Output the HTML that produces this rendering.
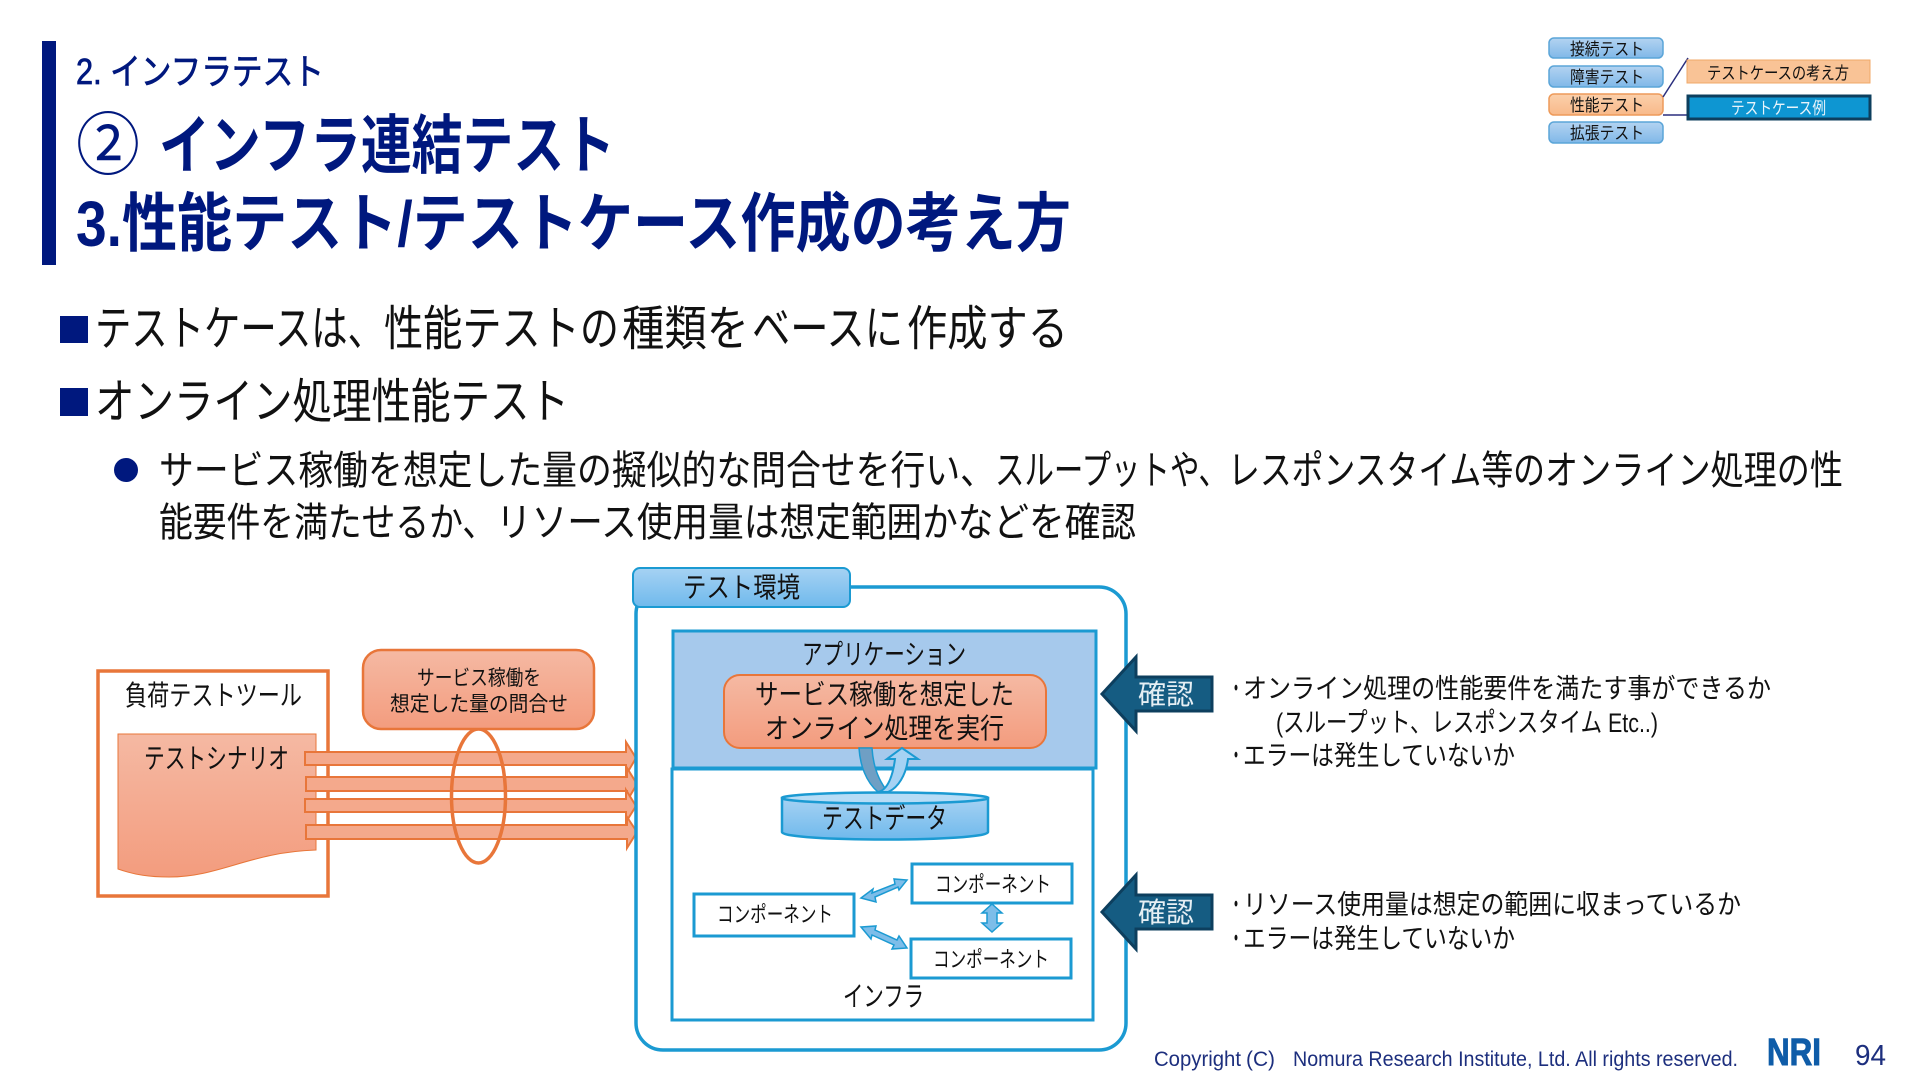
<!DOCTYPE html>
<html lang="ja"><head><meta charset="utf-8"><title>性能テスト</title>
<style>
html,body{margin:0;padding:0;background:#fff}
svg{display:block}
text{font-family:"Liberation Sans","Noto Sans CJK JP",sans-serif;fill:#111}
.t{fill:#00187e;font-weight:700}
</style></head><body>
<svg width="1920" height="1080" viewBox="0 0 1920 1080" xmlns="http://www.w3.org/2000/svg">
<defs>
<linearGradient id="o" x1="0" y1="0" x2="0" y2="1"><stop offset="0" stop-color="#f5b9a3"/><stop offset="1" stop-color="#f39c7e"/></linearGradient>
<linearGradient id="b" x1="0" y1="0" x2="0" y2="1"><stop offset="0" stop-color="#a6d2f3"/><stop offset="1" stop-color="#6fb9ec"/></linearGradient>
<linearGradient id="s" x1="0" y1="0" x2="0" y2="1"><stop offset="0" stop-color="#b3d3f1"/><stop offset="1" stop-color="#80b8e8"/></linearGradient>
<linearGradient id="so" x1="0" y1="0" x2="0" y2="1"><stop offset="0" stop-color="#fbd0ab"/><stop offset="1" stop-color="#f8b98a"/></linearGradient>
</defs>

<!-- header -->
<rect x="42" y="41" width="14" height="224" fill="#00187e"/>
<text x="76" y="84" font-size="36" textLength="248" lengthAdjust="spacingAndGlyphs" style="fill:#00187e;stroke:#00187e;stroke-width:.8">2. インフラテスト</text>
<text class="t" x="76" y="169" font-size="68" textLength="64" lengthAdjust="spacingAndGlyphs" style="font-weight:400">②</text>
<text class="t" x="159" y="168" font-size="64" textLength="456" lengthAdjust="spacingAndGlyphs">インフラ連結テスト</text>
<text class="t" x="76" y="246" font-size="64" textLength="995" lengthAdjust="spacingAndGlyphs">3.性能テスト/テストケース作成の考え方</text>

<!-- navigator -->
<g stroke="#5ba5d8" stroke-width="1.5" fill="url(#s)">
<rect x="1549" y="38" width="114" height="20" rx="5"/>
<rect x="1549" y="66" width="114" height="21" rx="5"/>
<rect x="1549" y="122" width="114" height="21" rx="5"/>
</g>
<rect x="1549" y="94" width="114" height="21" rx="5" fill="url(#so)" stroke="#ed9a5a" stroke-width="1.5"/>
<g font-size="17">
<text x="1570" y="55" textLength="74" lengthAdjust="spacingAndGlyphs">接続テスト</text>
<text x="1570" y="83" textLength="74" lengthAdjust="spacingAndGlyphs">障害テスト</text>
<text x="1570" y="111" textLength="74" lengthAdjust="spacingAndGlyphs">性能テスト</text>
<text x="1570" y="139" textLength="74" lengthAdjust="spacingAndGlyphs">拡張テスト</text>
</g>
<path d="M1663 97L1688 58M1663 115H1687" stroke="#2b2f7e" stroke-width="1.5" fill="none"/>
<rect x="1687" y="60" width="183" height="23" fill="#f9c396" stroke="#f0a868" stroke-width="1"/>
<text x="1707" y="79" font-size="17" textLength="142" lengthAdjust="spacingAndGlyphs">テストケースの考え方</text>
<rect x="1688" y="96" width="182" height="23" fill="#0e96d2" stroke="#0d3f5e" stroke-width="3"/>
<text x="1731" y="114" font-size="17" textLength="95" lengthAdjust="spacingAndGlyphs" style="fill:#e8f4fb">テストケース例</text>

<!-- body -->
<rect x="60" y="316" width="28" height="27" fill="#00187e"/>
<g font-size="48">
<text x="95" y="345" textLength="289" lengthAdjust="spacingAndGlyphs">テストケースは、</text>
<text x="384" y="345" textLength="235" lengthAdjust="spacingAndGlyphs">性能テストの</text>
<text x="622" y="345" textLength="127" lengthAdjust="spacingAndGlyphs">種類を</text>
<text x="752" y="345" textLength="151" lengthAdjust="spacingAndGlyphs">ベースに</text>
<text x="907" y="345" textLength="161" lengthAdjust="spacingAndGlyphs">作成する</text>
</g>
<rect x="60" y="388" width="28" height="28" fill="#00187e"/>
<text x="95" y="418" font-size="48" textLength="474" lengthAdjust="spacingAndGlyphs">オンライン処理性能テスト</text>
<circle cx="126" cy="470" r="12" fill="#00187e"/>
<g font-size="40">
<text x="159" y="484" textLength="836" lengthAdjust="spacingAndGlyphs">サービス稼働を想定した量の擬似的な問合せを行い、</text>
<text x="995" y="484" textLength="233" lengthAdjust="spacingAndGlyphs">スループットや、</text>
<text x="1228" y="484" textLength="317" lengthAdjust="spacingAndGlyphs">レスポンスタイム等の</text>
<text x="1545" y="484" textLength="298" lengthAdjust="spacingAndGlyphs">オンライン処理の性</text>
<text x="159" y="536" textLength="337" lengthAdjust="spacingAndGlyphs">能要件を満たせるか、</text>
<text x="496" y="536" textLength="640" lengthAdjust="spacingAndGlyphs">リソース使用量は想定範囲かなどを確認</text>
</g>

<!-- load tool -->
<rect x="98" y="671" width="230" height="225" fill="#fff" stroke="#e8763a" stroke-width="3.5"/>
<text x="125" y="705" font-size="28" textLength="177" lengthAdjust="spacingAndGlyphs">負荷テストツール</text>
<path d="M118 734H316V850C250 852 220 877 169 877C150 877 135 875 118 869Z" fill="url(#o)" stroke="#e8763a" stroke-width="1"/>
<text x="144" y="768" font-size="28" textLength="145" lengthAdjust="spacingAndGlyphs">テストシナリオ</text>

<!-- request arrows -->
<g fill="#f4a98c" stroke="#e8763a" stroke-width="2">
<path d="M305 752H626V742L636 758L626 775V765H305Z"/>
<path d="M306 777H627V768L637 784L627 801V791H306Z"/>
<path d="M305 799H626V790L636 806L626 822V812H305Z"/>
<path d="M306 825H627V817L637 832L627 848V839H306Z"/>
</g>
<ellipse cx="478.500" cy="796" rx="27" ry="67" fill="none" stroke="#e8763a" stroke-width="3.5"/>
<rect x="363" y="650" width="231" height="79" rx="18" fill="url(#o)" stroke="#e8763a" stroke-width="2.500"/>
<text x="417" y="685" font-size="21" textLength="124" lengthAdjust="spacingAndGlyphs">サービス稼働を</text>
<text x="390" y="711" font-size="21" textLength="178" lengthAdjust="spacingAndGlyphs">想定した量の問合せ</text>

<!-- test environment -->
<rect x="636" y="587" width="490" height="463" rx="27" fill="#fff" stroke="#1b9ad2" stroke-width="3.500"/>
<rect x="633" y="568" width="217" height="39" rx="7" fill="url(#b)" stroke="#1b9ad2" stroke-width="2"/>
<text x="683" y="597" font-size="28" textLength="117" lengthAdjust="spacingAndGlyphs">テスト環境</text>
<rect x="673" y="631" width="423" height="137" fill="#a6c9ec" stroke="#1b9ad2" stroke-width="3"/>
<rect x="672" y="769" width="421" height="251" fill="#fff" stroke="#1b9ad2" stroke-width="3"/>
<text x="802" y="664" font-size="28" textLength="164" lengthAdjust="spacingAndGlyphs">アプリケーション</text>
<rect x="724" y="675" width="322" height="73" rx="16" fill="url(#o)" stroke="#e8763a" stroke-width="2"/>
<text x="755" y="704" font-size="28" textLength="259" lengthAdjust="spacingAndGlyphs">サービス稼働を想定した</text>
<text x="765" y="738" font-size="28" textLength="239" lengthAdjust="spacingAndGlyphs">オンライン処理を実行</text>

<!-- curved arrows -->
<path d="M859 748H872C873 765 878 780 888 792H878C866 782 860 765 859 748Z" fill="#6f9fc4" stroke="#1b9ad2" stroke-width="1.500"/>
<path d="M878 792C888 790 893 775 895 759H887L902 748L918 759H908C906 775 898 788 888 792Z" fill="#a6d2f3" stroke="#1b9ad2" stroke-width="2"/>

<!-- cylinder -->
<path d="M782 798V832C782 842 988 842 988 832V798Z" fill="url(#b)" stroke="#1b9ad2" stroke-width="2.500"/>
<ellipse cx="885" cy="798" rx="103" ry="5.500" fill="#b6dcf6" stroke="#1b9ad2" stroke-width="2.500"/>
<text x="822" y="828" font-size="28" textLength="125" lengthAdjust="spacingAndGlyphs">テストデータ</text>

<!-- components -->
<g fill="#fff" stroke="#1b9ad2" stroke-width="3">
<rect x="694" y="894" width="160" height="42"/>
<rect x="912" y="864" width="160" height="39"/>
<rect x="911" y="939" width="160" height="39"/>
</g>
<g font-size="22">
<text x="717" y="922" textLength="116" lengthAdjust="spacingAndGlyphs">コンポーネント</text>
<text x="935" y="892" textLength="116" lengthAdjust="spacingAndGlyphs">コンポーネント</text>
<text x="933" y="967" textLength="116" lengthAdjust="spacingAndGlyphs">コンポーネント</text>
</g>
<g fill="#7dbde9" stroke="#1b9ad2" stroke-width="1.500">
<path d="M861 898L873 889L872 893L895 884L894 879L907 880L899 890L898 887L875 897L876 902Z"/>
<path d="M861 927L876 926L875 930L897 940L899 936L907 948L892 949L894 945L872 935L871 939Z"/>
<path d="M992 904L1002 913H997V923H1002L992 932L982 923H987V913H982Z"/>
</g>
<text x="843" y="1006" font-size="28" textLength="81" lengthAdjust="spacingAndGlyphs">インフラ</text>

<!-- confirm arrows -->
<g fill="#155c82" stroke="#0d3f5e" stroke-width="3">
<path d="M1102 694L1136 657V677H1212V711H1136V731Z"/>
<path d="M1102 912L1136 875V895H1212V929H1136V949Z"/>
</g>
<text x="1138" y="704" font-size="28" textLength="56" lengthAdjust="spacingAndGlyphs" style="fill:#e6eff4">確認</text>
<text x="1138" y="922" font-size="28" textLength="56" lengthAdjust="spacingAndGlyphs" style="fill:#e6eff4">確認</text>

<!-- right notes -->
<g font-size="27">
<text x="1229" y="698" textLength="14" lengthAdjust="spacingAndGlyphs">・</text>
<text x="1243" y="698" textLength="528" lengthAdjust="spacingAndGlyphs">オンライン処理の性能要件を満たす事ができるか</text>
<text x="1276" y="732" textLength="382" lengthAdjust="spacingAndGlyphs">(スループット、レスポンスタイム Etc..)</text>
<text x="1229" y="765" textLength="14" lengthAdjust="spacingAndGlyphs">・</text>
<text x="1243" y="765" textLength="272" lengthAdjust="spacingAndGlyphs">エラーは発生していないか</text>
<text x="1229" y="914" textLength="14" lengthAdjust="spacingAndGlyphs">・</text>
<text x="1243" y="914" textLength="498" lengthAdjust="spacingAndGlyphs">リソース使用量は想定の範囲に収まっているか</text>
<text x="1229" y="948" textLength="14" lengthAdjust="spacingAndGlyphs">・</text>
<text x="1243" y="948" textLength="272" lengthAdjust="spacingAndGlyphs">エラーは発生していないか</text>
</g>

<!-- footer -->
<g font-size="21" style="fill:#1d2f7e">
<text x="1154" y="1066" textLength="87" lengthAdjust="spacingAndGlyphs" style="fill:#1d2f7e">Copyright</text>
<text x="1246" y="1066" textLength="29" lengthAdjust="spacingAndGlyphs" style="fill:#1d2f7e">(C)</text>
<text x="1293" y="1066" textLength="445" lengthAdjust="spacingAndGlyphs" style="fill:#1d2f7e">Nomura Research Institute, Ltd. All rights reserved.</text>
</g>
<text x="1767" y="1065" font-size="38" font-weight="700" textLength="54" lengthAdjust="spacingAndGlyphs" style="fill:#0f5ca8;stroke:#0f5ca8;stroke-width:1">NRI</text>
<text x="1855" y="1065" font-size="29" textLength="31" lengthAdjust="spacingAndGlyphs" style="fill:#1d2f7e">94</text>
</svg>
</body></html>
